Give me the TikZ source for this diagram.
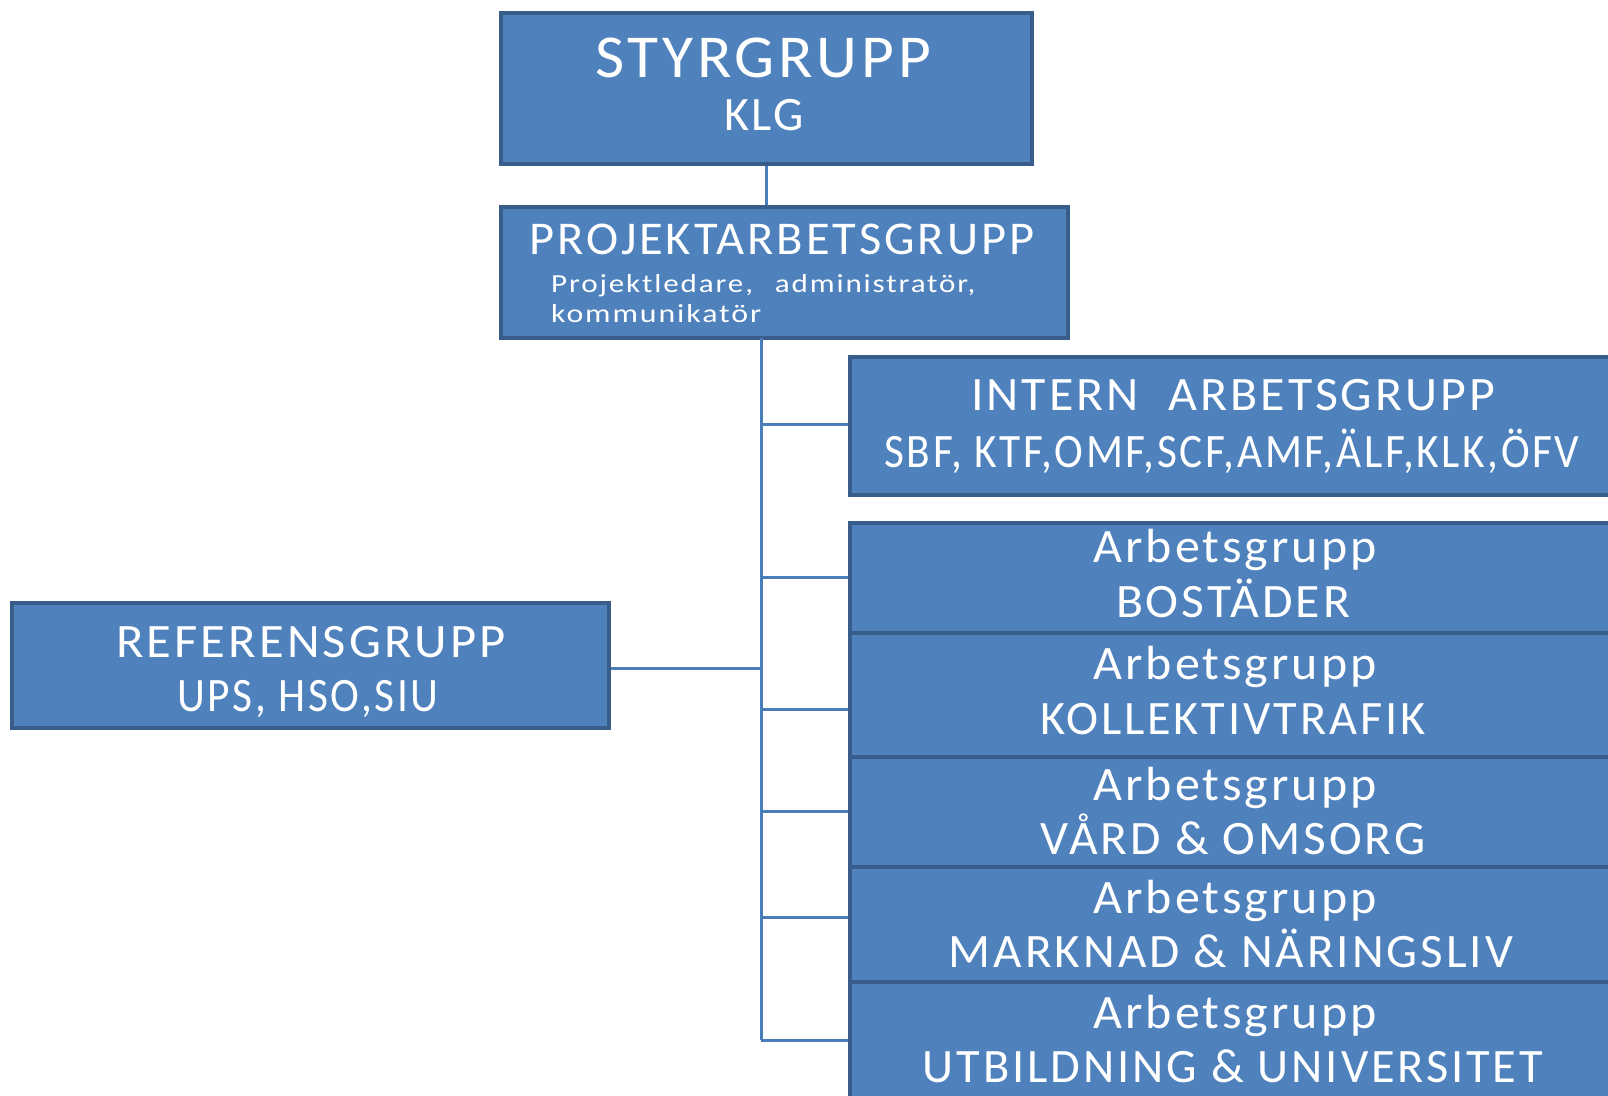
\documentclass[tikz,border=0pt]{standalone}
\usepackage{fontspec}
\setmainfont{Carlito}[LetterSpace=6]
\usepackage{graphicx}
\definecolor{boxfill}{HTML}{4F81BD}
\definecolor{boxline}{HTML}{385D8A}
\definecolor{conn}{HTML}{4A7EBB}
\newcommand\tw[3]{\resizebox{#1pt}{\height}{\fontsize{#2}{#2}\selectfont #3}}
\begin{document}
\begin{tikzpicture}[x=1pt,y=-1pt,
  box/.style={draw=boxline, line width=3.5pt, fill=boxfill, rectangle, inner sep=0pt},
  lbl/.style={anchor=base, inner sep=0pt, text=white},
  lbll/.style={anchor=base west, inner sep=0pt, text=white},
  link/.style={draw=conn, line width=3pt}]
\useasboundingbox (0,0) rectangle (1608,1095);
\clip (0,0) rectangle (1608,1095);
% connectors
\coordinate (ttop) at (761,338);
\coordinate (tbot) at (761,1040);
\coordinate (b0) at (761,424);
\coordinate (b1) at (761,577);
\coordinate (b2) at (761,709);
\coordinate (b3) at (761,811);
\coordinate (b4) at (761,917);
\coordinate (rj) at (761,668);
% boxes
\node[box, minimum width=531pt, minimum height=151pt] (styr) at (766.5,88.5) {};
\node[box, minimum width=567pt, minimum height=131pt] (proj) at (784.5,272.5) {};
\node[box, minimum width=766pt, minimum height=138pt] (intern) at (1233,426) {};
\node[box, minimum width=766pt, minimum height=110pt] (ag1) at (1233,578) {};
\node[box, minimum width=766pt, minimum height=124pt] (ag2) at (1233,695) {};
\node[box, minimum width=766pt, minimum height=110pt] (ag3) at (1233,812) {};
\node[box, minimum width=766pt, minimum height=115pt] (ag4) at (1233,924.5) {};
\node[box, minimum width=766pt, minimum height=148pt] (ag5) at (1233,1056) {};
\node[box, minimum width=597pt, minimum height=125pt] (ref) at (310.5,665.5) {};
\draw[link] (styr.south) -- (styr.south |- proj.north);
\draw[link] (ttop) -- (tbot);
\draw[link] (b0) -- (b0 -| intern.west);
\draw[link] (b1) -- (b1 -| ag1.west);
\draw[link] (b2) -- (b2 -| ag2.west);
\draw[link] (b3) -- (b3 -| ag3.west);
\draw[link] (b4) -- (b4 -| ag4.west);
\draw[link] (tbot) -- (tbot -| ag5.west);
\draw[link] (ref.east |- rj) -- (rj);
% texts
\node[lbl] (t1) at (763,77) {\tw{336}{61}{STYRGRUPP}};
\node[lbl] (t2) at (764,130) {\tw{80}{48}{KLG}};
\node[lbl] (t3) at (782,254) {\tw{504}{47}{PROJEKTARBETSGRUPP}};
\node[lbll] (t4) at (551,292) {\tw{424}{26}{Projektledare,\hspace{0.7em}administratör,}};
\node[lbll] (t5) at (551,322) {\tw{210}{26}{kommunikatör}};
\node[lbl] (t6) at (1233,410) {\tw{524}{48}{INTERN\hspace{0.6em}ARBETSGRUPP}};
\node[lbl] (t7) at (1232,467) {\tw{695}{48}{SBF, KTF,OMF,SCF,AMF,ÄLF,KLK,ÖFV}};
\node[lbl] (t8) at (1235,562) {\tw{283}{48}{Arbetsgrupp}};
\node[lbl] (t9) at (1233,617) {\tw{234}{48}{BOSTÄDER}};
\node[lbl] (t10) at (1235,679) {\tw{283}{48}{Arbetsgrupp}};
\node[lbl] (t11) at (1233,734) {\tw{385}{48}{KOLLEKTIVTRAFIK}};
\node[lbl] (t12) at (1235,800) {\tw{283}{48}{Arbetsgrupp}};
\node[lbl] (t13) at (1233,854) {\tw{385}{48}{VÅRD \& OMSORG}};
\node[lbl] (t14) at (1235,913) {\tw{283}{48}{Arbetsgrupp}};
\node[lbl] (t15) at (1231,967) {\tw{564}{48}{MARKNAD \& NÄRINGSLIV}};
\node[lbl] (t16) at (1235,1028) {\tw{283}{48}{Arbetsgrupp}};
\node[lbl] (t17) at (1233,1082) {\tw{620}{48}{UTBILDNING \& UNIVERSITET}};
\node[lbl] (t18) at (311,657) {\tw{389}{48}{REFERENSGRUPP}};
\node[lbl] (t19) at (308,711) {\tw{261}{48}{UPS, HSO,SIU}};
\end{tikzpicture}
\end{document}
